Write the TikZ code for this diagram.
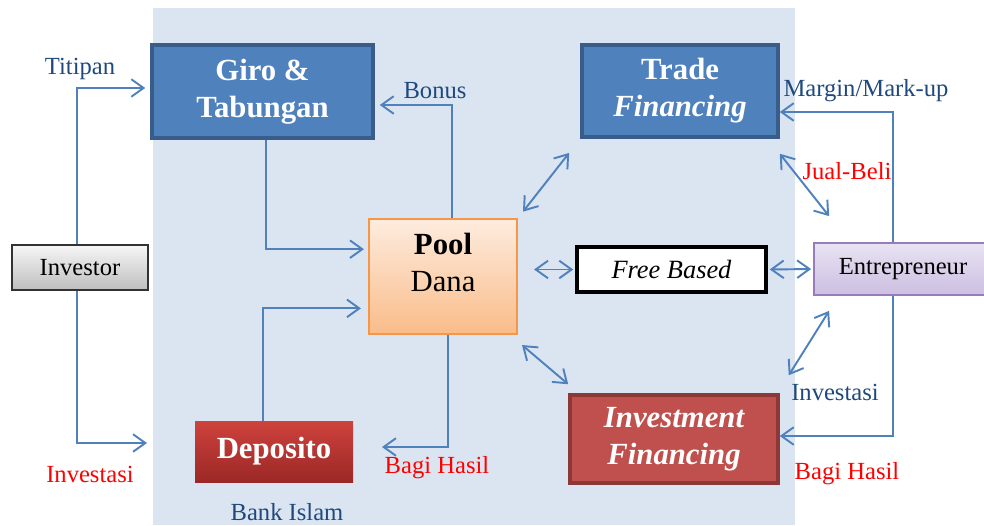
\documentclass[tikz,border=0pt]{standalone}
\usepackage{fontspec}
\setmainfont{Liberation Serif}
\usetikzlibrary{arrows.meta,positioning}
\definecolor{bgc}{RGB}{219,229,241}
\definecolor{arc}{RGB}{79,129,189}
\definecolor{blf}{RGB}{79,129,189}
\definecolor{bld}{RGB}{56,93,138}
\definecolor{lblc}{RGB}{31,73,125}
\definecolor{hasc}{RGB}{255,0,0}

\begin{document}
\begin{tikzpicture}[
  bluebox/.style={rectangle, draw=bld, line width=2pt, fill=blf, text=white, align=center, font=\fontsize{17.5}{21}\selectfont\bfseries},
  redbox/.style={rectangle, draw={rgb,255:red,140;green,56;blue,54}, line width=2pt, fill={rgb,255:red,192;green,80;blue,77}, text=white, align=center, font=\fontsize{17.5}{21}\selectfont\bfseries\itshape},
  greybox/.style={rectangle, draw={rgb,255:red,50;green,50;blue,50}, line width=1pt, top color={rgb,255:red,246;green,246;blue,246}, bottom color={rgb,255:red,190;green,190;blue,190}, font=\fontsize{14}{16}\selectfont},
  lbl/.style={text=lblc, font=\fontsize{14}{16}\selectfont},
  hlbl/.style={text=hasc, font=\fontsize{14}{16}\selectfont},
  arr/.style={draw=arc, line width=1.1pt, -{Straight Barb[length=7pt,width=10pt]}},
  dbl/.style={draw=arc, line width=1.1pt, {Straight Barb[length=7pt,width=10pt]}-{Straight Barb[length=7pt,width=10pt]}}
]

  \useasboundingbox (0,0) rectangle (19.68,-10.5);
  \fill[bgc] (3.06,-0.16) rectangle (15.90,-10.5);

  \node[bluebox, minimum width=4.42cm, minimum height=1.86cm] (giro) at (5.25,-1.83) {Giro \&\\Tabungan};
  \node[bluebox, minimum width=3.92cm, minimum height=1.84cm] (trade) at (13.60,-1.82) {Trade\\\textit{Financing}};
  \node[rectangle, draw={rgb,255:red,247;green,150;blue,70}, line width=1.2pt, top color={rgb,255:red,253;green,236;blue,222}, bottom color={rgb,255:red,250;green,188;blue,138}, minimum width=2.96cm, minimum height=2.30cm, inner sep=0pt, font=\fontsize{17.5}{21}\selectfont] (pool) at (8.86,-5.53) {\begin{tabular}{c}\textbf{Pool}\\Dana\\[12pt]\end{tabular}};
  \node[rectangle, draw=black, line width=2pt, fill=white, minimum width=3.78cm, minimum height=0.90cm, font=\fontsize{15}{18}\selectfont\itshape] (free) at (13.43,-5.39) {Free Based};
  \node[rectangle, draw={rgb,255:red,150;green,125;blue,185}, line width=1pt, top color={rgb,255:red,233;green,227;blue,243}, bottom color={rgb,255:red,204;green,190;blue,225}, minimum width=3.56cm, minimum height=1.04cm, font=\fontsize{14}{16}\selectfont] (entre) at (18.06,-5.38) {Entrepreneur};
  \node[greybox, minimum width=2.72cm, minimum height=0.90cm] (investor) at (1.60,-5.35) {Investor};
  \node[rectangle, top color={rgb,255:red,206;green,66;blue,61}, bottom color={rgb,255:red,155;green,40;blue,38}, text=white, minimum width=3.16cm, minimum height=1.22cm, font=\fontsize{17.5}{21}\selectfont\bfseries] (deposito) at (5.48,-9.03) {Deposito};
  \node[redbox, minimum width=4.16cm, minimum height=1.76cm] (invest) at (13.48,-8.78) {Investment\\Financing};

  \node[lbl] (titipan) at (1.60,-1.38) {Titipan};
  \node[lbl] (bonus) at (8.70,-1.82) {Bonus};
  \node[lbl] (margin) at (17.32,-1.82) {Margin/Mark-up};
  \node[hlbl] (jual) at (16.94,-3.42) {Jual-Beli};
  \node[hlbl] (invkiri) at (1.80,-9.48) {Investasi};
  \node[lbl] (bank) at (5.74,-10.24) {Bank Islam};
  \node[hlbl] (bagikiri) at (8.74,-9.36) {Bagi Hasil};
  \node[lbl] (invkanan) at (16.70,-7.84) {Investasi};
  \node[hlbl] (bagikanan) at (16.94,-9.48) {Bagi Hasil};

  \coordinate (depin) at (2.94,-8.86);
  \coordinate (bagi) at (7.64,-8.94);

  \draw[arr, shorten >=0.1cm] ([xshift=-0.06cm]investor.north) |- (giro.west |- 0,-1.76);
  \draw[arr] ([xshift=-0.06cm]investor.south) |- (depin);
  \draw[arr, shorten >=0.08cm] ([xshift=0.07cm]giro.south) |- (pool.160);
  \draw[arr, shorten >=0.1cm] ([xshift=0.18cm]pool.north) |- ([yshift=-0.27cm]giro.east);
  \draw[arr, shorten >=0.14cm] ([xshift=-0.22cm]deposito.north) |- (pool.203);
  \draw[arr] ([xshift=0.1cm]pool.south) |- (bagi);
  \draw[dbl, shorten <=0.16cm, shorten >=0.36cm] (pool.north east) -- (trade.south west);
  \draw[dbl, shorten <=0.32cm, shorten >=0.04cm] (pool.east |- free.west) -- (free.west);
  \draw[dbl, shorten <=0.04cm, shorten >=0.04cm] (free.east) -- (entre.west);
  \draw[dbl] ([yshift=-0.3cm]trade.south east) -- ([xshift=0.32cm,yshift=0.52cm]entre.north west);
  \draw[dbl] ([xshift=0.08cm,yshift=-0.2cm]pool.south east) -- ([yshift=0.18cm]invest.north west);
  \draw[dbl] ([xshift=0.32cm,yshift=-0.3cm]entre.south west) -- ([xshift=0.18cm,yshift=0.36cm]invest.north east);
  \draw[arr] ([xshift=-0.2cm]entre.north) |- ([yshift=-0.42cm]trade.east);
  \draw[arr] ([xshift=-0.2cm]entre.south) |- ([yshift=0.06cm]invest.east);

\end{tikzpicture}
\end{document}
